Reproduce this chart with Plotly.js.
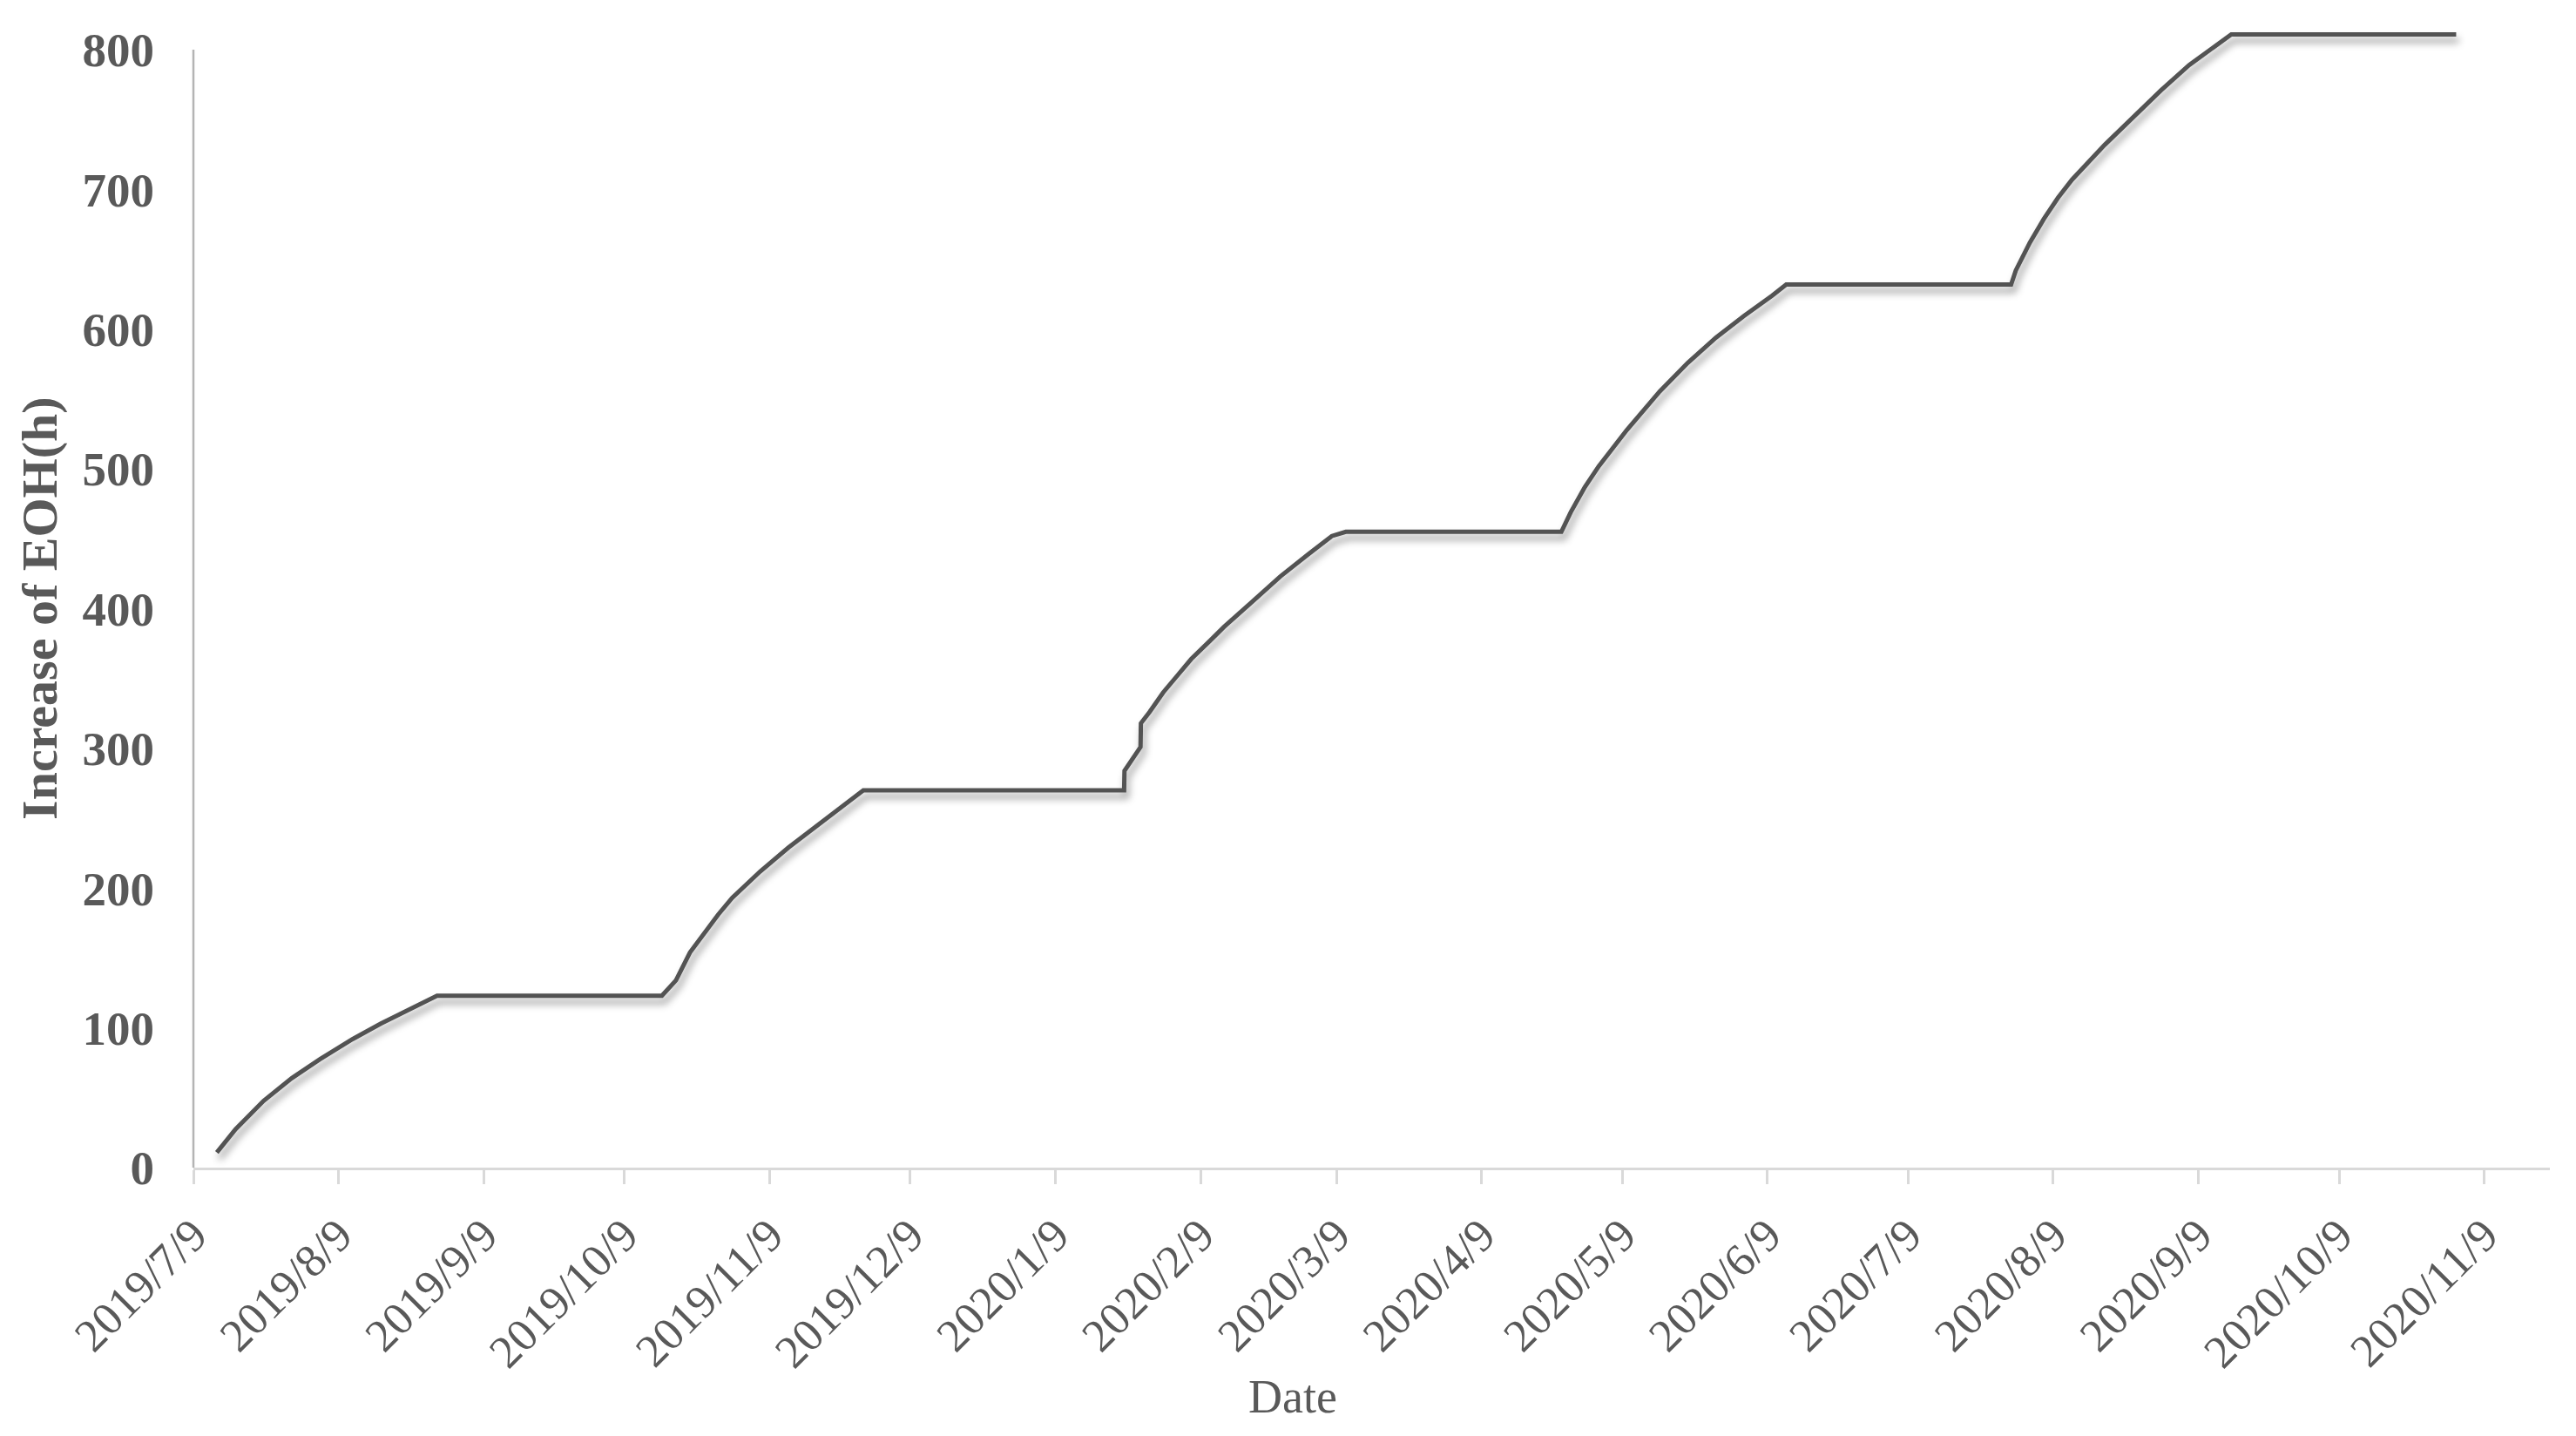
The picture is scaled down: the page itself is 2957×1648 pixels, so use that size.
<!DOCTYPE html>
<html>
<head>
<meta charset="utf-8">
<script src="https://cdn.plot.ly/plotly-3.0.1.min.js"></script>
<style>
  html, body { margin: 0; padding: 0; background: #ffffff; }
  #chart { width: 2957px; height: 1648px; }
</style>
</head>
<body>
<div id="chart"></div>
<script>
// Dates of the readings (cumulative EOH increase)
const dates = [
  '2019-07-14', '2019-07-18', '2019-07-24', '2019-07-30', '2019-08-05', '2019-08-12',
  '2019-08-18', '2019-08-24', '2019-08-30',
  '2019-10-17', '2019-10-20', '2019-10-23', '2019-10-26', '2019-10-29', '2019-11-01',
  '2019-11-07', '2019-11-13', '2019-11-20', '2019-11-26', '2019-11-29',
  '2020-01-23 16:00', '2020-01-23 18:00', '2020-01-27 04:00', '2020-01-27 06:00', '2020-01-29 02:00',
  '2020-02-01', '2020-02-04', '2020-02-07', '2020-02-11', '2020-02-14', '2020-02-20',
  '2020-02-26', '2020-03-03', '2020-03-08', '2020-03-11',
  '2020-04-26', '2020-04-28', '2020-05-01', '2020-05-04', '2020-05-07', '2020-05-10',
  '2020-05-17', '2020-05-23', '2020-05-29', '2020-06-04', '2020-06-10', '2020-06-13',
  '2020-07-31', '2020-08-01', '2020-08-04', '2020-08-07', '2020-08-10', '2020-08-13',
  '2020-08-20', '2020-08-26', '2020-09-01', '2020-09-07', '2020-09-13', '2020-09-16',
  '2020-11-03'
];
const eohIncrease = [
  10.8, 27.5, 47.8, 64, 77.5, 92,
  103, 113, 123,
  123, 134, 154, 168, 181, 193,
  212, 229, 247, 262, 270,
  270, 284, 301, 318, 326,
  340, 352, 364, 377, 387, 405,
  423, 439, 452, 455,
  455, 469, 487, 502, 515.5, 528,
  555.5, 576, 594, 609.5, 624, 632,
  632, 642, 662, 679, 694, 707,
  732, 752, 771, 789, 804, 811,
  811
];
const yTickValues = [0, 100, 200, 300, 400, 500, 600, 700, 800];

const fontFamily = '"Liberation Serif", "Times New Roman", serif';
const textColor = '#595959';

const trace = {
  x: dates,
  y: eohIncrease,
  type: 'scatter',
  mode: 'lines',
  line: { color: '#525252', width: 5 },
  hoverinfo: 'x+y',
  showlegend: false
};

const layout = {
  width: 2957,
  height: 1648,
  paper_bgcolor: '#ffffff',
  plot_bgcolor: '#ffffff',
  margin: { l: 222, r: 30, t: 25, b: 308 },
  font: { family: fontFamily, color: textColor },
  xaxis: {
    type: 'date',
    range: ['2019-07-09', '2020-11-23'],
    tick0: '2019-07-09',
    dtick: 'M1',
    tickformat: '%Y/%-m/%-d',
    tickangle: -45,
    ticks: 'outside',
    ticklen: 16,
    tickwidth: 3,
    tickcolor: '#d9d9d9',
    ticklabelstandoff: 6,
    tickfont: { family: fontFamily, size: 53, color: textColor },
    showline: true,
    linecolor: '#d9d9d9',
    linewidth: 3,
    showgrid: false,
    zeroline: false
  },
  yaxis: {
    range: [0, 820],
    tickmode: 'array',
    tickvals: yTickValues,
    ticktext: yTickValues.map(String),
    ticks: '',
    ticklabelstandoff: 44,
    tickfont: { family: fontFamily, size: 55, color: textColor, weight: 'bold' },
    showline: false,
    showgrid: false,
    zeroline: false
  },
  annotations: [
    {
      text: 'Date', xref: 'paper', yref: 'paper',
      x: 0.4665, y: -0.2, xanchor: 'center', yanchor: 'middle',
      showarrow: false,
      font: { family: fontFamily, size: 54, color: textColor }
    },
    {
      text: '<b>Increase of EOH(h)</b>', xref: 'paper', yref: 'y',
      x: -0.0653, y: 400, xanchor: 'center', yanchor: 'middle', textangle: -90,
      showarrow: false,
      font: { family: fontFamily, size: 58, color: textColor }
    }
  ],
  shapes: [
    {
      type: 'line', xref: 'paper', yref: 'y',
      x0: 0, x1: 0, y0: 0, y1: 800,
      line: { color: '#b4b4b4', width: 2.5 }
    }
  ]
};

Plotly.newPlot('chart', [trace], layout, { displayModeBar: false, staticPlot: true }).then(function (gd) {
  const svg = gd.querySelector('.main-svg');
  const ns = 'http://www.w3.org/2000/svg';
  let defs = svg.querySelector('defs');
  if (!defs) { defs = document.createElementNS(ns, 'defs'); svg.insertBefore(defs, svg.firstChild); }
  const filter = document.createElementNS(ns, 'filter');
  filter.setAttribute('id', 'lineShadow');
  filter.setAttribute('x', '-5%');
  filter.setAttribute('y', '-5%');
  filter.setAttribute('width', '112%');
  filter.setAttribute('height', '115%');
  const ds = document.createElementNS(ns, 'feDropShadow');
  ds.setAttribute('dx', '3');
  ds.setAttribute('dy', '7');
  ds.setAttribute('stdDeviation', '4.5');
  ds.setAttribute('flood-color', '#000000');
  ds.setAttribute('flood-opacity', '0.4');
  filter.appendChild(ds);
  defs.appendChild(filter);
  gd.querySelectorAll('.scatterlayer path.js-line').forEach(function (p) {
    p.setAttribute('filter', 'url(#lineShadow)');
  });
});
</script>
</body>
</html>
